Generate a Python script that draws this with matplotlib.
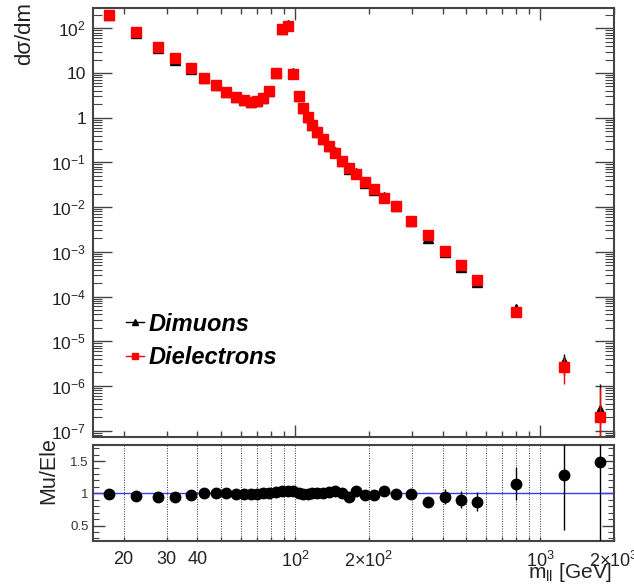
import numpy as np
import matplotlib
matplotlib.use('Agg')
import matplotlib.pyplot as plt
from matplotlib.ticker import FixedLocator, FuncFormatter, NullFormatter, MultipleLocator
from matplotlib.lines import Line2D

# ---------------- data ----------------
mass = [17.5, 22.5, 27.5, 32.5, 37.5, 42.5, 47.5, 52.5, 57.5,
        62, 66, 70, 74, 78.5, 83.5, 88.5, 93.5, 98.5,
        103.5, 108, 112.5, 117.5, 123, 129.5, 137, 145.5, 155, 165.5,
        178, 192.5, 210, 231.5, 258, 296.5, 350, 410, 475, 555,
        800, 1250, 1750]

ele = [202, 84, 37.6, 21.3, 12.7, 7.85, 5.3, 3.82, 2.9,
       2.49, 2.28, 2.37, 2.72, 4.0, 9.8, 95, 112, 9.5,
       3.05, 1.65, 1.04, 0.69, 0.48, 0.33, 0.233, 0.162, 0.108, 0.075,
       0.055, 0.036, 0.0254, 0.016, 0.0106, 0.0049, 0.0024, 0.00106, 5.2e-4, 2.4e-4,
       4.5e-5, 2.7e-6, 2.0e-7]

ele_err = [2.0, 0.8, 0.3, 0.15, 0.09, 0.05, 0.04, 0.03, 0.02,
           0.02, 0.02, 0.02, 0.02, 0.03, 0.06, 0.4, 0.5, 0.05,
           0.02, 0.01, 0.008, 0.006, 0.005, 0.004, 0.003, 0.002, 0.0015, 0.001,
           0.0008, 0.0006, 0.0005, 0.0003, 0.0002, 0.0001, 6e-5, 4e-5, 2.5e-5, 1.5e-5,
           1.0e-5, 1.6e-6, 7e-7]

ratio = [0.99, 0.96, 0.95, 0.94, 0.97, 1.01, 1.01, 1.00, 0.99,
         0.99, 0.99, 0.99, 1.00, 1.01, 1.02, 1.04, 1.04, 1.03,
         1.01, 0.99, 0.99, 1.00, 1.01, 1.01, 1.02, 1.03, 1.00, 0.95,
         1.04, 0.97, 0.97, 1.04, 0.99, 0.99, 0.87, 0.95, 0.90, 0.87,
         1.15, 1.29, 1.48]

ratio_err = [0.02, 0.02, 0.02, 0.02, 0.02, 0.02, 0.02, 0.02, 0.02,
             0.02, 0.02, 0.02, 0.02, 0.02, 0.01, 0.01, 0.01, 0.01,
             0.02, 0.02, 0.02, 0.02, 0.02, 0.02, 0.02, 0.02, 0.02, 0.03,
             0.03, 0.03, 0.03, 0.04, 0.04, 0.04, 0.05, 0.12, 0.13, 0.15,
             0.26, 0.86, 1.30]

mu_err = [2.0, 0.8, 0.3, 0.15, 0.09, 0.05, 0.04, 0.03, 0.02,
          0.02, 0.02, 0.02, 0.02, 0.03, 0.06, 0.4, 0.5, 0.05,
          0.02, 0.01, 0.008, 0.006, 0.005, 0.004, 0.003, 0.002, 0.0015, 0.001,
          0.0008, 0.0006, 0.0005, 0.0003, 0.0002, 0.0001, 6e-5, 4e-5, 2.5e-5, 1.5e-5,
          1.2e-5, 1.8e-6, 8e-7]

mu = [e * r for e, r in zip(ele, ratio)]

# ---------------- style ----------------
FRAME = '#444444'
TXT = '#222222'
plt.rcParams.update({
    'font.family': ['Liberation Sans', 'DejaVu Sans'],
    'mathtext.fontset': 'custom',
    'mathtext.rm': 'Liberation Sans',
    'mathtext.it': 'Liberation Sans:italic',
    'mathtext.default': 'regular',
})

W, H = 634, 587
fig = plt.figure(figsize=(W / 100, H / 100), dpi=100)

def axrect(l, t, r, b):
    return [l / W, 1 - b / H, (r - l) / W, (b - t) / H]

ax = fig.add_axes(axrect(93, 8, 614, 437))
axr = fig.add_axes(axrect(93, 445, 614, 541))

for a in (ax, axr):
    for s in a.spines.values():
        s.set_color(FRAME)
        s.set_linewidth(1.5)
    a.set_xscale('log')
    a.set_xlim(15, 2000)

# ---------------- main panel ----------------
ax.set_yscale('log')
ax.set_ylim(7.2e-8, 285)

ax.errorbar(mass, mu, yerr=mu_err, fmt='^', color='black', ms=6.5,
            elinewidth=1, capsize=0, zorder=3)
ax.errorbar(mass, ele, yerr=ele_err, fmt='s', color='#ff0000', ms=6.5,
            elinewidth=1, capsize=0, zorder=4, mec='#ff0000')

def ylab(v, pos):
    e = int(round(np.log10(v)))
    if e == 0:
        return '1'
    if e == 1:
        return '10'
    return r'$\mathregular{10^{%d}}$' % e

ax.yaxis.set_major_locator(FixedLocator([10.0 ** k for k in range(-7, 3)]))
ax.yaxis.set_minor_locator(FixedLocator([m * 10.0 ** k for k in range(-8, 3) for m in range(2, 10)]))
ax.yaxis.set_major_formatter(FuncFormatter(ylab))
ax.yaxis.set_minor_formatter(NullFormatter())

ax.xaxis.set_major_locator(FixedLocator([100, 1000]))
ax.xaxis.set_minor_locator(FixedLocator([m * 10.0 ** k for k in (1, 2, 3) for m in range(2, 10)]))
ax.xaxis.set_major_formatter(NullFormatter())
ax.xaxis.set_minor_formatter(NullFormatter())

ax.tick_params(axis='y', which='major', direction='in', length=13.5, width=1, color=FRAME,
               left=True, right=True, labelsize=12.5, labelcolor=TXT, pad=5)
ax.tick_params(axis='y', which='minor', direction='in', length=6.5, width=0.8, color=FRAME,
               left=True, right=True)
ax.tick_params(axis='x', which='major', direction='in', length=8.5, width=1, color=FRAME,
               top=True, bottom=True)
ax.tick_params(axis='x', which='minor', direction='in', length=4.3, width=1, color=FRAME,
               top=True, bottom=True)

handles = [Line2D([], [], color='black', marker='^', ms=5, lw=1),
           Line2D([], [], color='#ff0000', marker='s', ms=5, lw=1)]
leg = ax.legend(handles, ['Dimuons', 'Dielectrons'], loc='upper left',
                bbox_to_anchor=(0.063, 0.29), frameon=False,
                prop={'weight': 'bold', 'style': 'italic', 'size': 17},
                handlelength=0.75, handletextpad=0.2, labelspacing=0.45,
                borderpad=0, borderaxespad=0)

# ---------------- ratio panel ----------------
axr.set_ylim(0.26, 1.75)
axr.axhline(1.0, color='#3a3aff', lw=1, zorder=2)
axr.errorbar(mass, ratio, yerr=ratio_err, fmt='o', color='black', ms=7.5,
             elinewidth=1, capsize=0, zorder=3)

axr.yaxis.set_major_locator(FixedLocator([0.5, 1.0, 1.5]))
axr.yaxis.set_minor_locator(MultipleLocator(0.1))
axr.yaxis.set_major_formatter(FuncFormatter(lambda v, p: '%g' % v))
axr.tick_params(axis='y', which='major', direction='in', length=8.5, width=1, color=FRAME,
                left=True, right=True, labelsize=9.5, labelcolor='#333333', pad=3)
axr.tick_params(axis='y', which='minor', direction='in', length=4.3, width=0.8, color=FRAME,
                left=True, right=True)

axr.xaxis.set_major_locator(FixedLocator([100, 1000]))
axr.xaxis.set_minor_locator(FixedLocator([m * 10.0 ** k for k in (1, 2, 3) for m in range(2, 10)]))

def xmaj(v, p):
    e = int(round(np.log10(v)))
    return r'$\mathregular{10^{%d}}$' % e

def xmin(v, p):
    lab = {20: '20', 30: '30', 40: '40',
           200: r'$\mathregular{2{\times}10^{2}}$',
           2000: r'$\mathregular{2{\times}10^{3}}$'}
    return lab.get(int(round(v)), '')

axr.xaxis.set_major_formatter(FuncFormatter(xmaj))
axr.xaxis.set_minor_formatter(FuncFormatter(xmin))
axr.tick_params(axis='x', which='both', direction='in', length=3, width=1, color=FRAME,
                labelsize=13, labelcolor=TXT, pad=7)
axr.grid(True, axis='x', which='both', linestyle=(0, (1, 1.5)), color='#333333', lw=0.7)
axr.set_axisbelow(True)

# ---------------- titles ----------------
fig.text(25 / W, 1 - 2 / H, 'd\u03c3/dm', rotation=90, ha='center', va='top',
         fontsize=16, color=TXT)
fig.text(49 / W, 1 - 437 / H, 'Mu/Ele', rotation=90, ha='center', va='top',
         fontsize=15.5, color=TXT)
fig.text(612 / W, 1 - 578 / H, r'm$_{\mathregular{ll}}$ [GeV]', ha='right', va='baseline',
         fontsize=15, color=TXT)

fig.savefig('out.png', dpi=100)
